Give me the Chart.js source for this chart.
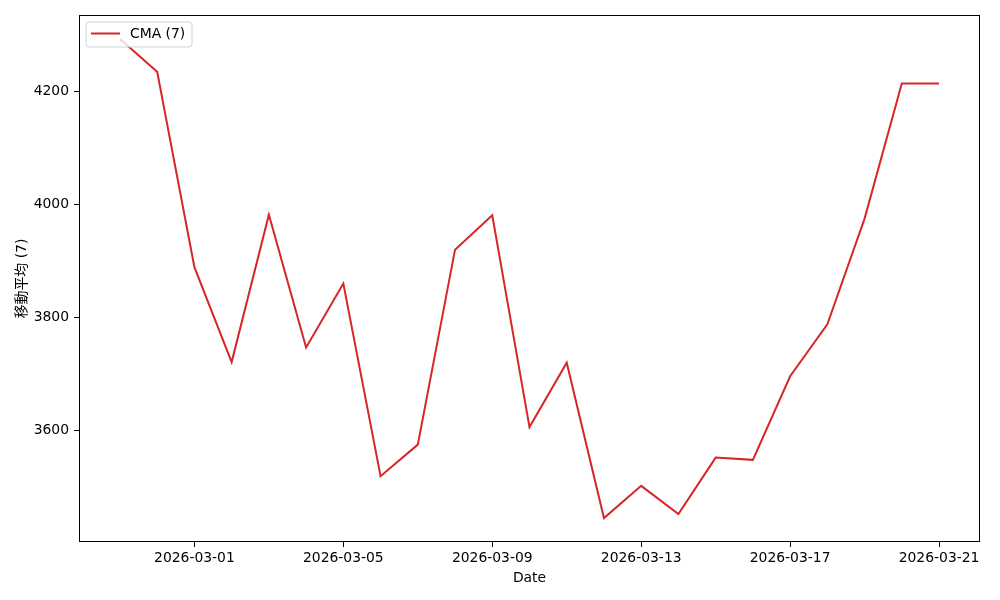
<!DOCTYPE html>
<html>
<head>
<meta charset="utf-8">
<script src="https://cdn.jsdelivr.net/npm/chart.js@4"></script>
<style>
  html, body { margin: 0; padding: 0; background: #fff; }
  #wrap { width: 1000px; height: 600px; }
</style>
</head>
<body>
<div id="wrap"><canvas id="c" width="1000" height="600"></canvas></div>
<script>
const dates = [
  "2026-02-27","2026-02-28","2026-03-01","2026-03-02","2026-03-03","2026-03-04",
  "2026-03-05","2026-03-06","2026-03-07","2026-03-08","2026-03-09","2026-03-10",
  "2026-03-11","2026-03-12","2026-03-13","2026-03-14","2026-03-15","2026-03-16",
  "2026-03-17","2026-03-18","2026-03-19","2026-03-20","2026-03-21"
];
const cmaValues = [
  4293, 4235, 3889, 3721, 3982, 3747,
  3860, 3519, 3575, 3920, 3981, 3606,
  3720, 3445, 3502, 3452, 3552, 3548,
  3696, 3788, 3975, 4214, 4214
];
const xTickLabels = ["2026-03-01","2026-03-05","2026-03-09","2026-03-13","2026-03-17","2026-03-21"];
const yTickValues = [3600, 3800, 4000, 4200];
const seriesLabel = "CMA (7)";
const yTitle = "移動平均 (7)";
const xTitle = "Date";

const FONT = "'DejaVu Sans', 'Noto Sans CJK JP', sans-serif";
const FS = 13.9;
const RED = "#d62728";

const points = cmaValues.map((v, i) => ({ x: i, y: v }));
const n = dates.length - 1;
const xMargin = n * 0.05;
const yMin = Math.min(...cmaValues), yMax = Math.max(...cmaValues);
const yMargin = (yMax - yMin) * 0.05;

const framePlugin = {
  id: 'frame',
  afterDraw(chart) {
    const { ctx, chartArea: a } = chart;
    ctx.save();
    ctx.strokeStyle = '#000';
    ctx.lineWidth = 1;
    ctx.strokeRect(Math.round(a.left) + 0.5, Math.round(a.top) + 0.5,
                   Math.round(a.right - a.left) - 1, Math.round(a.bottom - a.top) - 1);
    // legend
    const ds = chart.data.datasets[0];
    const lx = a.left + 7, ly = a.top + 7, lw = 106, lh = 25, r = 3;
    ctx.beginPath();
    ctx.moveTo(lx + r, ly);
    ctx.arcTo(lx + lw, ly, lx + lw, ly + lh, r);
    ctx.arcTo(lx + lw, ly + lh, lx, ly + lh, r);
    ctx.arcTo(lx, ly + lh, lx, ly, r);
    ctx.arcTo(lx, ly, lx + lw, ly, r);
    ctx.closePath();
    ctx.fillStyle = 'rgba(255,255,255,0.8)';
    ctx.fill();
    ctx.strokeStyle = 'rgba(204,204,204,0.9)';
    ctx.stroke();
    ctx.beginPath();
    ctx.strokeStyle = ds.borderColor;
    ctx.lineWidth = 2;
    ctx.moveTo(lx + 5, ly + 11.5);
    ctx.lineTo(lx + 34, ly + 11.5);
    ctx.stroke();
    ctx.fillStyle = '#000';
    ctx.font = FS + 'px ' + FONT;
    ctx.textBaseline = 'middle';
    ctx.textAlign = 'left';
    ctx.fillText(ds.label, lx + 44, ly + 12);
    ctx.restore();
  }
};

new Chart(document.getElementById('c'), {
  type: 'line',
  data: {
    datasets: [{
      label: seriesLabel,
      data: points,
      borderColor: RED,
      backgroundColor: RED,
      borderWidth: 2,
      pointRadius: 0,
      tension: 0,
      fill: false
    }]
  },
  options: {
    responsive: false,
    animation: false,
    layout: { padding: { left: 0, right: 20, top: 15, bottom: 0 } },
    plugins: { legend: { display: false }, tooltip: { enabled: false } },
    scales: {
      x: {
        type: 'linear',
        min: -xMargin,
        max: n + xMargin,
        afterBuildTicks(axis) {
          axis.ticks = xTickLabels.map(l => ({ value: dates.indexOf(l) }));
        },
        afterFit(scale) { scale.height = 58; },
        ticks: {
          autoSkip: false,
          maxRotation: 0,
          color: '#000',
          padding: 3,
          font: { family: FONT, size: FS },
          callback: (v) => dates[v]
        },
        grid: { display: true, drawOnChartArea: false, drawTicks: true, tickLength: 5, color: '#000' },
        border: { display: false },
        title: { display: true, text: xTitle, color: '#000', font: { family: FONT, size: FS }, padding: { top: 0, bottom: 13 } }
      },
      y: {
        type: 'linear',
        min: yMin - yMargin,
        max: yMax + yMargin,
        afterBuildTicks(axis) {
          axis.ticks = yTickValues.map(v => ({ value: v }));
        },
        afterFit(scale) { scale.width = 79; },
        ticks: {
          color: '#000',
          padding: 5,
          font: { family: FONT, size: FS },
          callback: (v) => String(v)
        },
        grid: { display: true, drawOnChartArea: false, drawTicks: true, tickLength: 5, color: '#000' },
        border: { display: false },
        title: { display: true, text: yTitle, color: '#000', font: { family: FONT, size: FS }, padding: { top: 14, bottom: 0 } }
      }
    }
  },
  plugins: [framePlugin]
});
</script>
</body>
</html>
